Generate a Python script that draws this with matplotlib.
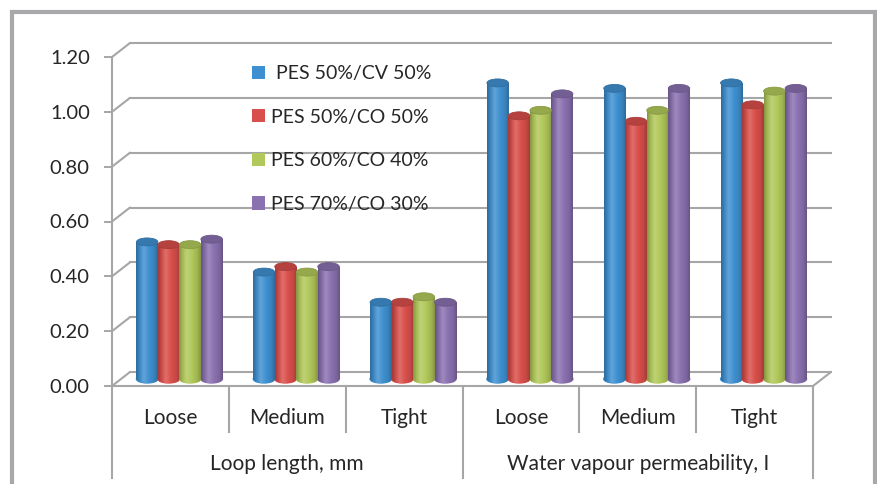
import numpy as np
import matplotlib.pyplot as plt
from matplotlib import transforms
from matplotlib.colors import LinearSegmentedColormap, to_rgb
from matplotlib.patches import ConnectionPatch, Ellipse, Patch, Rectangle

plt.rcParams['font.family'] = ['Lato', 'DejaVu Sans']

groups = ["Loop length, mm", "Water vapour permeability, I"]
categories = ["Loose", "Medium", "Tight", "Loose", "Medium", "Tight"]
series = [" PES 50%/CV 50%", "PES 50%/CO 50%", "PES 60%/CO 40%", "PES 70%/CO 30%"]
pes50_cv50 = [0.50, 0.39, 0.28, 1.08, 1.06, 1.08]
pes50_co50 = [0.49, 0.41, 0.28, 0.96, 0.94, 1.00]
pes60_co40 = [0.49, 0.39, 0.30, 0.98, 0.98, 1.05]
pes70_co30 = [0.51, 0.41, 0.28, 1.04, 1.06, 1.06]
yticks = [0.0, 0.2, 0.4, 0.6, 0.8, 1.0, 1.2]

colors = ["#3f90d0", "#d94f4b", "#b1c85a", "#8a71b0"]
grid_c = "#a6a6a6"
text_c = "#262626"


def shade_cmap(c):
    # horizontal shading that makes a flat bar look like a cylinder
    c = np.array(to_rgb(c))
    light = c + (1 - c) * 0.18
    stops = [(0.0, c * 0.74), (0.15, c * 0.93), (0.35, light),
             (0.6, c), (0.85, c * 0.9), (1.0, c * 0.74)]
    return LinearSegmentedColormap.from_list("cyl", stops)


fig = plt.figure(figsize=(8.77, 4.84), dpi=100)
ax = fig.add_axes([112 / 877, 98 / 484, 701 / 877, 329 / 484])
ax.set_xlim(0, 6)
ax.set_ylim(0, 1.2)
for s in ax.spines.values():
    s.set_visible(False)
ax.set_xticks([])
ax.set_yticks(yticks)
ax.set_yticklabels([f"{v:.2f}" for v in yticks], fontsize=14.5, color=text_c)
ax.tick_params(axis="y", length=6, width=1.4, color=grid_c, pad=10)

# back wall and mid-depth planes of the pseudo 3D box
mid = ax.transData + transforms.ScaledTranslation(0.09, 0.07, fig.dpi_scale_trans)
back = ax.transData + transforms.ScaledTranslation(0.18, 0.14, fig.dpi_scale_trans)

for v in yticks:
    ax.plot([0, 6], [v, v], transform=back, color=grid_c, lw=1.5, clip_on=False, zorder=1)
    ax.add_artist(ConnectionPatch((0, v), (0, v), coordsA=ax.transData, coordsB=back,
                                  color=grid_c, lw=1.5, zorder=1))
ax.add_artist(ConnectionPatch((6, 0), (6, 0), coordsA=ax.transData, coordsB=back,
                              color=grid_c, lw=1.5, zorder=1))
ax.plot([0, 6], [0, 0], color=grid_c, lw=1.5, clip_on=False, zorder=1)

# category table under the floor
tb = transforms.blended_transform_factory(ax.transData, ax.transAxes)
for xv in [0, 3, 6]:
    ax.plot([xv, xv], [-0.28, 1.0 if xv == 0 else 0], transform=tb, color=grid_c,
            lw=1.5, clip_on=False)
for xv in [1, 2, 4, 5]:
    ax.plot([xv, xv], [-0.14, 0], transform=tb, color=grid_c, lw=1.5, clip_on=False)
for i, cat in enumerate(categories):
    ax.text(i + 0.5, -0.097, cat, transform=tb, ha="center", va="center",
            fontsize=15, color=text_c)
for i, g in enumerate(groups):
    ax.text(1.5 + 3 * i, -0.236, g, transform=tb, ha="center", va="center",
            fontsize=15, color=text_c)

# cylinders
bar_w = 0.184
cap_h = 0.029
grad = np.linspace(0, 1, 64).reshape(1, -1)
x = np.arange(len(categories)) + 0.5
for k, (vals, col) in enumerate(zip([pes50_cv50, pes50_co50, pes60_co40, pes70_co30], colors)):
    cmap = shade_cmap(col)
    xs = x + (k - 1.5) * bar_w
    bars = ax.bar(xs, vals, width=bar_w, color=col, transform=mid, zorder=3)
    dark = np.array(to_rgb(col)) * 0.84
    for rect, v in zip(bars, vals):
        x0 = rect.get_x()
        im = ax.imshow(grad, cmap=cmap, extent=(x0, x0 + bar_w, 0, v), aspect="auto",
                       transform=mid, zorder=3.1, interpolation="bicubic")
        im.set_clip_path(rect)
        base = Ellipse((x0 + bar_w / 2, 0), bar_w, cap_h, transform=mid, color=col)
        ax.add_patch(base)
        im2 = ax.imshow(grad, cmap=cmap, extent=(x0, x0 + bar_w, -cap_h, cap_h),
                        aspect="auto", transform=mid, zorder=3.1, interpolation="bicubic")
        im2.set_clip_path(base)
        ax.add_patch(Ellipse((x0 + bar_w / 2, v), bar_w, cap_h, transform=mid,
                             facecolor=dark, edgecolor=dark * 0.92, lw=0.6, zorder=3.2))

ax.set_xlim(0, 6)
ax.set_ylim(0, 1.2)

ax.legend(handles=[Patch(facecolor=c) for c in colors], labels=series,
          loc="upper left", bbox_to_anchor=(252 / 877, 1 - 65 / 484),
          bbox_transform=fig.transFigure, frameon=False, fontsize=14,
          handlelength=0.67, handleheight=0.67, handletextpad=0.33,
          labelspacing=1.37, borderpad=0, borderaxespad=0, labelcolor=text_c)

# outer frame
fig.add_artist(Rectangle((12 / 877, -0.05), 863 / 877, 1.05 - 12 / 484,
                         transform=fig.transFigure, fill=False, edgecolor="#a8a8aa", lw=3))

fig.savefig("out.png", dpi=100)
